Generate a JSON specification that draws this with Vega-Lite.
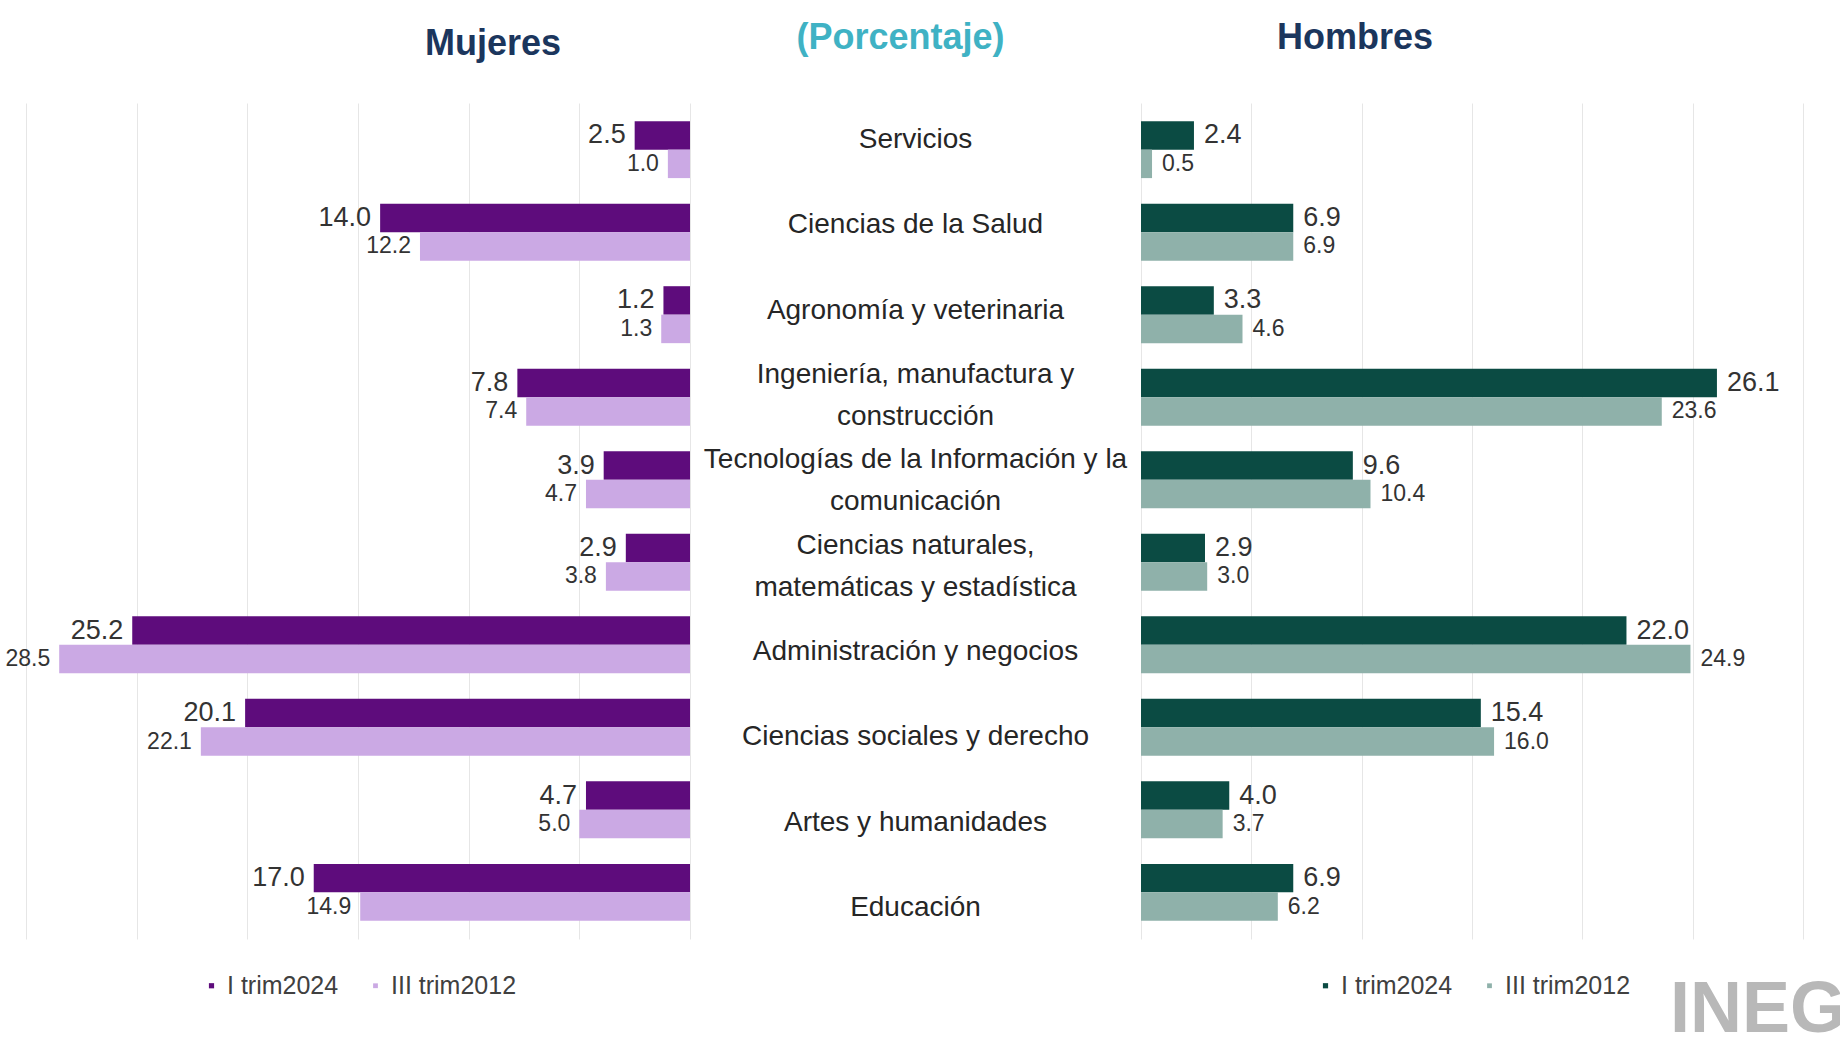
{
  "$schema": "https://vega.github.io/schema/vega-lite/v6.json",
  "background": "white",
  "padding": {"left": 5, "top": 20, "right": 37, "bottom": 0},
  "spacing": 0,
  "title": {"text": "INEGI", "orient": "bottom", "anchor": "end", "fontSize": 72, "font": "Liberation Sans", "fontWeight": "bold", "color": "#b8b8b8", "offset": -24, "dx": 63},
  "datasets": {
    "vals": [
      {"cat": "Servicios", "sexo": "Mujeres", "serie": "I trim2024", "valor": 2.5},
      {"cat": "Servicios", "sexo": "Mujeres", "serie": "III trim2012", "valor": 1.0},
      {"cat": "Ciencias de la Salud", "sexo": "Mujeres", "serie": "I trim2024", "valor": 14.0},
      {"cat": "Ciencias de la Salud", "sexo": "Mujeres", "serie": "III trim2012", "valor": 12.2},
      {"cat": "Agronomía y veterinaria", "sexo": "Mujeres", "serie": "I trim2024", "valor": 1.2},
      {"cat": "Agronomía y veterinaria", "sexo": "Mujeres", "serie": "III trim2012", "valor": 1.3},
      {"cat": "Ingeniería, manufactura y construcción", "sexo": "Mujeres", "serie": "I trim2024", "valor": 7.8},
      {"cat": "Ingeniería, manufactura y construcción", "sexo": "Mujeres", "serie": "III trim2012", "valor": 7.4},
      {"cat": "Tecnologías de la Información y la comunicación", "sexo": "Mujeres", "serie": "I trim2024", "valor": 3.9},
      {"cat": "Tecnologías de la Información y la comunicación", "sexo": "Mujeres", "serie": "III trim2012", "valor": 4.7},
      {"cat": "Ciencias naturales, matemáticas y estadística", "sexo": "Mujeres", "serie": "I trim2024", "valor": 2.9},
      {"cat": "Ciencias naturales, matemáticas y estadística", "sexo": "Mujeres", "serie": "III trim2012", "valor": 3.8},
      {"cat": "Administración y negocios", "sexo": "Mujeres", "serie": "I trim2024", "valor": 25.2},
      {"cat": "Administración y negocios", "sexo": "Mujeres", "serie": "III trim2012", "valor": 28.5},
      {"cat": "Ciencias sociales y derecho", "sexo": "Mujeres", "serie": "I trim2024", "valor": 20.1},
      {"cat": "Ciencias sociales y derecho", "sexo": "Mujeres", "serie": "III trim2012", "valor": 22.1},
      {"cat": "Artes y humanidades", "sexo": "Mujeres", "serie": "I trim2024", "valor": 4.7},
      {"cat": "Artes y humanidades", "sexo": "Mujeres", "serie": "III trim2012", "valor": 5.0},
      {"cat": "Educación", "sexo": "Mujeres", "serie": "I trim2024", "valor": 17.0},
      {"cat": "Educación", "sexo": "Mujeres", "serie": "III trim2012", "valor": 14.9},
      {"cat": "Servicios", "sexo": "Hombres", "serie": "I trim2024", "valor": 2.4},
      {"cat": "Servicios", "sexo": "Hombres", "serie": "III trim2012", "valor": 0.5},
      {"cat": "Ciencias de la Salud", "sexo": "Hombres", "serie": "I trim2024", "valor": 6.9},
      {"cat": "Ciencias de la Salud", "sexo": "Hombres", "serie": "III trim2012", "valor": 6.9},
      {"cat": "Agronomía y veterinaria", "sexo": "Hombres", "serie": "I trim2024", "valor": 3.3},
      {"cat": "Agronomía y veterinaria", "sexo": "Hombres", "serie": "III trim2012", "valor": 4.6},
      {"cat": "Ingeniería, manufactura y construcción", "sexo": "Hombres", "serie": "I trim2024", "valor": 26.1},
      {"cat": "Ingeniería, manufactura y construcción", "sexo": "Hombres", "serie": "III trim2012", "valor": 23.6},
      {"cat": "Tecnologías de la Información y la comunicación", "sexo": "Hombres", "serie": "I trim2024", "valor": 9.6},
      {"cat": "Tecnologías de la Información y la comunicación", "sexo": "Hombres", "serie": "III trim2012", "valor": 10.4},
      {"cat": "Ciencias naturales, matemáticas y estadística", "sexo": "Hombres", "serie": "I trim2024", "valor": 2.9},
      {"cat": "Ciencias naturales, matemáticas y estadística", "sexo": "Hombres", "serie": "III trim2012", "valor": 3.0},
      {"cat": "Administración y negocios", "sexo": "Hombres", "serie": "I trim2024", "valor": 22.0},
      {"cat": "Administración y negocios", "sexo": "Hombres", "serie": "III trim2012", "valor": 24.9},
      {"cat": "Ciencias sociales y derecho", "sexo": "Hombres", "serie": "I trim2024", "valor": 15.4},
      {"cat": "Ciencias sociales y derecho", "sexo": "Hombres", "serie": "III trim2012", "valor": 16.0},
      {"cat": "Artes y humanidades", "sexo": "Hombres", "serie": "I trim2024", "valor": 4.0},
      {"cat": "Artes y humanidades", "sexo": "Hombres", "serie": "III trim2012", "valor": 3.7},
      {"cat": "Educación", "sexo": "Hombres", "serie": "I trim2024", "valor": 6.9},
      {"cat": "Educación", "sexo": "Hombres", "serie": "III trim2012", "valor": 6.2}
    ],
    "cats": [
      {"cat": "Servicios", "etiqueta": "Servicios"},
      {"cat": "Ciencias de la Salud", "etiqueta": "Ciencias de la Salud"},
      {"cat": "Agronomía y veterinaria", "etiqueta": "Agronomía y veterinaria"},
      {"cat": "Ingeniería, manufactura y construcción", "etiqueta": "Ingeniería, manufactura y\nconstrucción"},
      {"cat": "Tecnologías de la Información y la comunicación", "etiqueta": "Tecnologías de la Información y la\ncomunicación"},
      {"cat": "Ciencias naturales, matemáticas y estadística", "etiqueta": "Ciencias naturales,\nmatemáticas y estadística"},
      {"cat": "Administración y negocios", "etiqueta": "Administración y negocios"},
      {"cat": "Ciencias sociales y derecho", "etiqueta": "Ciencias sociales y derecho"},
      {"cat": "Artes y humanidades", "etiqueta": "Artes y humanidades"},
      {"cat": "Educación", "etiqueta": "Educación"}
    ]
  },
  "hconcat": [
    {
      "width": 664,
      "height": 836,
      "title": {"text": "Mujeres", "dx": 135, "offset": 40},
      "data": {"name": "vals"},
      "transform": [{"filter": "datum.sexo === 'Mujeres'"}],
      "encoding": {
        "y": {"field": "cat", "type": "nominal", "sort": null, "axis": null,
              "scale": {"paddingInner": 0.31, "paddingOuter": 0.22}},
        "yOffset": {"field": "serie", "type": "nominal", "sort": ["I trim2024", "III trim2012"]},
        "x": {"field": "valor", "type": "quantitative",
              "scale": {"domain": [0, 30], "reverse": true, "nice": false},
              "axis": {"title": null, "labels": false, "ticks": false, "domain": false, "grid": true,
                       "values": [0, 5, 10, 15, 20, 25, 30], "gridColor": "#e6e6e6", "gridWidth": 1}}
      },
      "layer": [
        {
          "mark": {"type": "bar"},
          "encoding": {
            "color": {"field": "serie", "type": "nominal",
                      "scale": {"domain": ["I trim2024", "III trim2012"], "range": ["#5e0c7c", "#cba9e4"]},
                      "legend": {"title": null, "orient": "bottom", "direction": "horizontal", "offset": 34,
                                 "symbolType": "square", "symbolSize": 110, "labelFontSize": 25,
                                 "labelFont": "Liberation Sans", "labelColor": "#404040", "columnPadding": 24, "symbolOffset": 0, "labelOffset": 3}}
          }
        },
        {
          "mark": {"type": "text", "align": "right", "baseline": "middle", "dx": -9, "color": "#333333", "font": "Liberation Sans"},
          "encoding": {
            "text": {"field": "valor", "type": "quantitative", "format": ".1f"},
            "size": {"field": "serie", "type": "nominal", "scale": {"domain": ["I trim2024", "III trim2012"], "range": [27, 23]}, "legend": null}
          }
        }
      ]
    },
    {
      "width": 451,
      "height": 836,
      "title": {"text": "(Porcentaje)", "color": "#3fb2c4", "offset": 46, "dx": -15},
      "data": {"name": "cats"},
      "encoding": {
        "y": {"field": "cat", "type": "nominal", "axis": null,
              "sort": ["Servicios", "Ciencias de la Salud", "Agronomía y veterinaria", "Ingeniería, manufactura y construcción", "Tecnologías de la Información y la comunicación", "Ciencias naturales, matemáticas y estadística", "Administración y negocios", "Ciencias sociales y derecho", "Artes y humanidades", "Educación"],
              "scale": {"type": "point", "padding": 0.4}},
        "x": {"datum": 0, "type": "quantitative", "scale": {"domain": [-1, 1]}, "axis": null},
        "text": {"field": "etiqueta", "type": "nominal"}
      },
      "layer": [
        {
          "transform": [{"filter": "datum.etiqueta === datum.cat"}],
          "mark": {"type": "text", "align": "center", "baseline": "middle", "lineBreak": "\n", "fontSize": 28,
                   "lineHeight": 42, "dy": 3, "font": "Liberation Sans", "color": "#262626"}
        },
        {
          "transform": [{"filter": "datum.etiqueta !== datum.cat"}],
          "mark": {"type": "text", "align": "center", "baseline": "middle", "lineBreak": "\n", "fontSize": 28,
                   "lineHeight": 42, "dy": -18, "font": "Liberation Sans", "color": "#262626"}
        }
      ]
    },
    {
      "width": 662,
      "height": 836,
      "title": {"text": "Hombres", "dx": -117, "offset": 46},
      "data": {"name": "vals"},
      "transform": [{"filter": "datum.sexo === 'Hombres'"}],
      "encoding": {
        "y": {"field": "cat", "type": "nominal", "sort": null, "axis": null,
              "scale": {"paddingInner": 0.31, "paddingOuter": 0.22}},
        "yOffset": {"field": "serie", "type": "nominal", "sort": ["I trim2024", "III trim2012"]},
        "x": {"field": "valor", "type": "quantitative",
              "scale": {"domain": [0, 30], "nice": false},
              "axis": {"title": null, "labels": false, "ticks": false, "domain": false, "grid": true,
                       "values": [0, 5, 10, 15, 20, 25, 30], "gridColor": "#e6e6e6", "gridWidth": 1}}
      },
      "layer": [
        {
          "mark": {"type": "bar"},
          "encoding": {
            "color": {"field": "serie", "type": "nominal",
                      "scale": {"domain": ["I trim2024", "III trim2012"], "range": ["#0b4b43", "#8fb1aa"]},
                      "legend": {"title": null, "orient": "bottom", "direction": "horizontal", "offset": 34,
                                 "symbolType": "square", "symbolSize": 110, "labelFontSize": 25,
                                 "labelFont": "Liberation Sans", "labelColor": "#404040", "columnPadding": 24, "symbolOffset": 0, "labelOffset": 3}}
          }
        },
        {
          "mark": {"type": "text", "align": "left", "baseline": "middle", "dx": 10, "color": "#333333", "font": "Liberation Sans"},
          "encoding": {
            "text": {"field": "valor", "type": "quantitative", "format": ".1f"},
            "size": {"field": "serie", "type": "nominal", "scale": {"domain": ["I trim2024", "III trim2012"], "range": [27, 23]}, "legend": null}
          }
        }
      ]
    }
  ],
  "resolve": {"scale": {"color": "independent", "y": "independent", "x": "independent", "size": "independent"}},
  "config": {
    "view": {"stroke": null},
    "legend": {"layout": {"bottom": {"anchor": "middle"}}},
    "title": {"font": "Liberation Sans", "fontSize": 36, "fontWeight": "bold", "color": "#1b365d", "anchor": "middle"}
  }
}
